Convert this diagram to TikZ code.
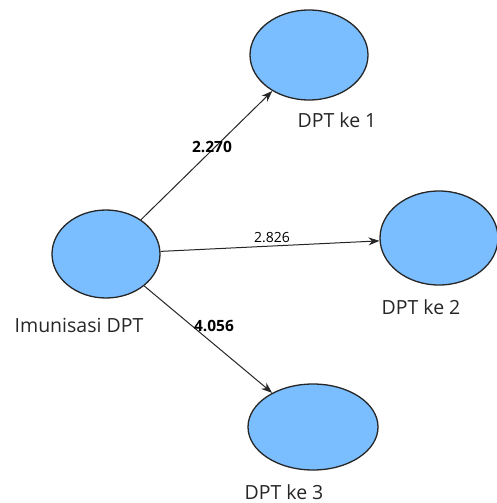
\documentclass[tikz,border=0pt]{standalone}
\usepackage{fontspec}
\setmainfont{Open Sans}
\usetikzlibrary{shapes.geometric,arrows.meta}
\definecolor{latent}{RGB}{122,190,255}
\tikzset{eaxis/.style={-{Stealth[length=11pt,width=8pt]},draw=black!85,line width=1pt}}
\tikzset{lvar/.style={ellipse,draw=black!85,line width=1.3pt,fill=latent,inner sep=0pt}}
\tikzset{lname/.style={font=\fontsize{19.5}{22}\selectfont,text=black!85}}
\tikzset{coef/.style={font=\fontsize{14}{16}\selectfont,inner sep=1pt}}
\tikzset{bcoef/.style={font=\fontsize{15.5}{18}\selectfont\bfseries,inner sep=1pt}}

\begin{document}
\begin{tikzpicture}[x=1pt,y=-1pt]
    \useasboundingbox (0,0) rectangle (496,503);
    \node[lvar, minimum width=108, minimum height=88] (imun) at (106,254) {};
    \node[lvar, minimum width=118, minimum height=90] (dpt1) at (309,55) {};
    \node[lvar, minimum width=118, minimum height=94] (dpt2) at (439,238) {};
    \node[lvar, minimum width=130, minimum height=86] (dpt3) at (313,427) {};
    \node[lname] (limun) at (79,325) {Imunisasi DPT};
    \node[lname] (ldpt1) at (337,120) {DPT ke 1};
    \node[lname] (ldpt2) at (421,307) {DPT ke 2};
    \node[lname] (ldpt3) at (284,492) {DPT ke 3};
    \draw[eaxis] (imun) -- (dpt1);
    \draw[eaxis] (imun) -- (dpt2);
    \draw[eaxis] (imun) -- (dpt3);
    \node[bcoef] (c1) at (212,147) {2.270};
    \node[coef] (c2) at (272,238) {2.826};
    \node[bcoef] (c3) at (214,326) {4.056};
\end{tikzpicture}
\end{document}
